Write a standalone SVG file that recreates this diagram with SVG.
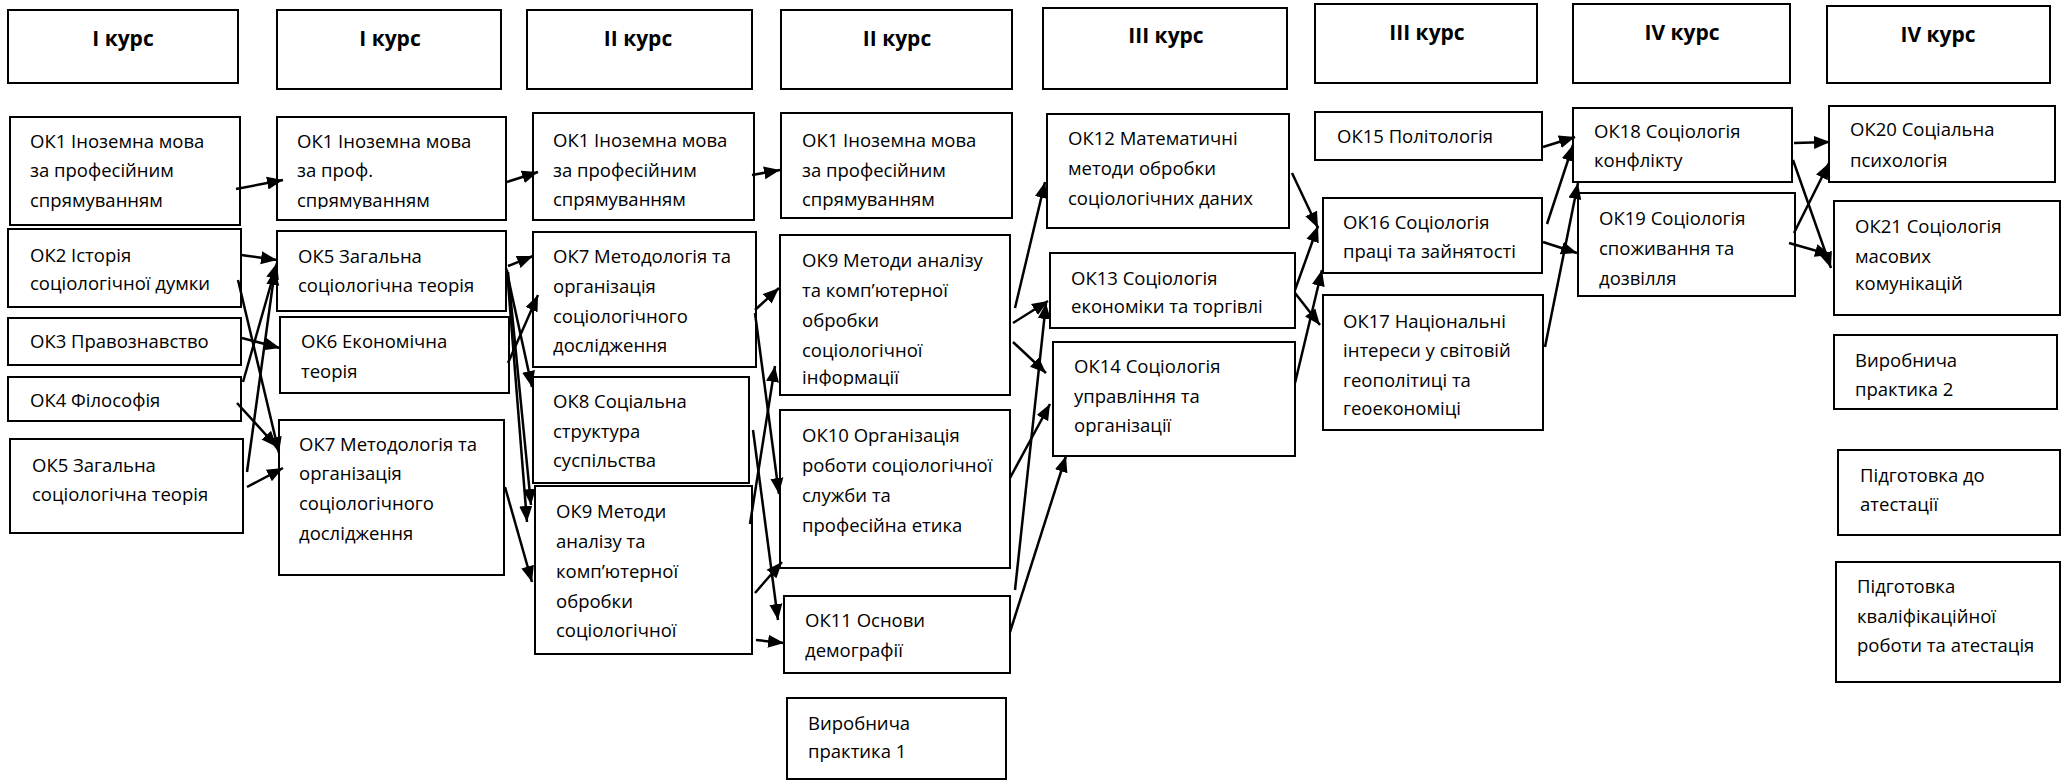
<svg xmlns="http://www.w3.org/2000/svg" width="2065" height="781" viewBox="0 0 2065 781">
<style>
.b{fill:#fff;stroke:#000;stroke-width:2}
.t{font-family:"Open Sans","Noto Sans","DejaVu Sans",sans-serif;font-size:18.5px;fill:#000}
.h{font-family:"Open Sans","Noto Sans","DejaVu Sans",sans-serif;font-size:21px;font-weight:bold;fill:#000;text-anchor:middle}
.c line{stroke:#000;stroke-width:2.5;marker-end:url(#ah)}
</style>
<defs>
<marker id="ah" markerUnits="userSpaceOnUse" markerWidth="17" markerHeight="14" refX="16" refY="7" orient="auto"><path d="M0,0.5 L16,7 L0,13.5 z" fill="#000"/></marker>
<clipPath id="clipB1"><rect x="277" y="117" width="229" height="92"/></clipPath>
<clipPath id="clipD2"><rect x="780" y="235" width="230" height="151"/></clipPath>
</defs>
<rect width="2065" height="781" fill="#fff"/>

<!-- headers -->
<g id="h1"><rect class="b" x="8" y="10" width="230" height="73"/><text class="h" x="123" y="46">І курс</text></g>
<g id="h2"><rect class="b" x="277" y="10" width="224" height="79"/><text class="h" x="390" y="46">І курс</text></g>
<g id="h3"><rect class="b" x="527" y="10" width="225" height="79"/><text class="h" x="638" y="46">ІІ курс</text></g>
<g id="h4"><rect class="b" x="781" y="10" width="231" height="79"/><text class="h" x="897" y="46">ІІ курс</text></g>
<g id="h5"><rect class="b" x="1043" y="8" width="244" height="81"/><text class="h" x="1166" y="43">ІІІ курс</text></g>
<g id="h6"><rect class="b" x="1315" y="4" width="222" height="79"/><text class="h" x="1427" y="40">ІІІ курс</text></g>
<g id="h7"><rect class="b" x="1573" y="4" width="217" height="79"/><text class="h" x="1682" y="40">ІV курс</text></g>
<g id="h8"><rect class="b" x="1827" y="6" width="223" height="77"/><text class="h" x="1938" y="42">ІV курс</text></g>

<!-- column 1 -->
<g id="a1"><rect class="b" x="10" y="117" width="230" height="108"/><text class="t" x="30" y="148">ОК1 Іноземна мова</text><text class="t" x="30" y="177">за професійним</text><text class="t" x="30" y="207">спрямуванням</text></g>
<g id="a2"><rect class="b" x="8" y="229" width="233" height="78"/><text class="t" x="30" y="262">ОК2 Історія</text><text class="t" x="30" y="290">соціологічної думки</text></g>
<g id="a3"><rect class="b" x="8" y="318" width="233" height="47"/><text class="t" x="30" y="348">ОК3 Правознавство</text></g>
<g id="a4"><rect class="b" x="8" y="377" width="233" height="44"/><text class="t" x="30" y="407">ОК4 Філософія</text></g>
<g id="a5"><rect class="b" x="10" y="439" width="233" height="94"/><text class="t" x="32" y="472">ОК5 Загальна</text><text class="t" x="32" y="501">соціологічна теорія</text></g>

<!-- column 2 -->
<g id="b1"><rect class="b" x="277" y="117" width="229" height="103"/><g clip-path="url(#clipB1)"><text class="t" x="297" y="148">ОК1 Іноземна мова</text><text class="t" x="297" y="177">за проф.</text><text class="t" x="297" y="207">спрямуванням</text></g></g>
<g id="b2"><rect class="b" x="277" y="231" width="229" height="80"/><text class="t" x="298" y="263">ОК5 Загальна</text><text class="t" x="298" y="292">соціологічна теорія</text></g>
<g id="b3"><rect class="b" x="280" y="317" width="229" height="76"/><text class="t" x="301" y="348">ОК6 Економічна</text><text class="t" x="301" y="378">теорія</text></g>
<g id="b4"><rect class="b" x="279" y="420" width="225" height="155"/><text class="t" x="299" y="451">ОК7 Методологія та</text><text class="t" x="299" y="480">організація</text><text class="t" x="299" y="510">соціологічного</text><text class="t" x="299" y="540">дослідження</text></g>

<!-- column 3 -->
<g id="c1"><rect class="b" x="533" y="113" width="221" height="107"/><text class="t" x="553" y="147">ОК1 Іноземна мова</text><text class="t" x="553" y="177">за професійним</text><text class="t" x="553" y="206">спрямуванням</text></g>
<g id="c2"><rect class="b" x="533" y="232" width="223" height="135"/><text class="t" x="553" y="263">ОК7 Методологія та</text><text class="t" x="553" y="293">організація</text><text class="t" x="553" y="323">соціологічного</text><text class="t" x="553" y="352">дослідження</text></g>
<g id="c3"><rect class="b" x="533" y="377" width="216" height="106"/><text class="t" x="553" y="408">ОК8 Соціальна</text><text class="t" x="553" y="438">структура</text><text class="t" x="553" y="467">суспільства</text></g>
<g id="c4"><rect class="b" x="535" y="486" width="217" height="168"/><text class="t" x="556" y="518">ОК9 Методи</text><text class="t" x="556" y="548">аналізу та</text><text class="t" x="556" y="578">комп’ютерної</text><text class="t" x="556" y="608">обробки</text><text class="t" x="556" y="637">соціологічної</text></g>

<!-- column 4 -->
<g id="d1"><rect class="b" x="781" y="113" width="231" height="105"/><text class="t" x="802" y="147">ОК1 Іноземна мова</text><text class="t" x="802" y="177">за професійним</text><text class="t" x="802" y="206">спрямуванням</text></g>
<g id="d2"><rect class="b" x="780" y="235" width="230" height="160"/><g clip-path="url(#clipD2)"><text class="t" x="802" y="267">ОК9 Методи аналізу</text><text class="t" x="802" y="297">та комп’ютерної</text><text class="t" x="802" y="327">обробки</text><text class="t" x="802" y="357">соціологічної</text><text class="t" x="802" y="384">інформації</text></g></g>
<g id="d3"><rect class="b" x="780" y="410" width="230" height="158"/><text class="t" x="802" y="442">ОК10 Організація</text><text class="t" x="802" y="472">роботи соціологічної</text><text class="t" x="802" y="502">служби та</text><text class="t" x="802" y="532">професійна етика</text></g>
<g id="d4"><rect class="b" x="784" y="596" width="226" height="77"/><text class="t" x="805" y="627">ОК11 Основи</text><text class="t" x="805" y="657">демографії</text></g>
<g id="d5"><rect class="b" x="787" y="698" width="219" height="81"/><text class="t" x="808" y="730">Виробнича</text><text class="t" x="808" y="758">практика 1</text></g>

<!-- column 5 -->
<g id="e1"><rect class="b" x="1047" y="114" width="242" height="114"/><text class="t" x="1068" y="145">ОК12 Математичні</text><text class="t" x="1068" y="175">методи обробки</text><text class="t" x="1068" y="205">соціологічних даних</text></g>
<g id="e2"><rect class="b" x="1050" y="253" width="245" height="75"/><text class="t" x="1071" y="285">ОК13 Соціологія</text><text class="t" x="1071" y="313">економіки та торгівлі</text></g>
<g id="e3"><rect class="b" x="1053" y="342" width="242" height="114"/><text class="t" x="1074" y="373">ОК14 Соціологія</text><text class="t" x="1074" y="403">управління та</text><text class="t" x="1074" y="432">організації</text></g>

<!-- column 6 -->
<g id="f1"><rect class="b" x="1315" y="112" width="227" height="48"/><text class="t" x="1337" y="143">ОК15 Політологія</text></g>
<g id="f2"><rect class="b" x="1323" y="198" width="219" height="75"/><text class="t" x="1343" y="229">ОК16 Соціологія</text><text class="t" x="1343" y="258">праці та зайнятості</text></g>
<g id="f3"><rect class="b" x="1323" y="295" width="220" height="135"/><text class="t" x="1343" y="328">ОК17 Національні</text><text class="t" x="1343" y="357">інтереси у світовій</text><text class="t" x="1343" y="387">геополітиці та</text><text class="t" x="1343" y="415">геоекономіці</text></g>

<!-- column 7 -->
<g id="g1"><rect class="b" x="1573" y="108" width="219" height="74"/><text class="t" x="1594" y="138">ОК18 Соціологія</text><text class="t" x="1594" y="167">конфлікту</text></g>
<g id="g2"><rect class="b" x="1578" y="193" width="217" height="103"/><text class="t" x="1599" y="225">ОК19 Соціологія</text><text class="t" x="1599" y="255">споживання та</text><text class="t" x="1599" y="285">дозвілля</text></g>

<!-- column 8 -->
<g id="i1"><rect class="b" x="1829" y="106" width="226" height="76"/><text class="t" x="1850" y="136">ОК20 Соціальна</text><text class="t" x="1850" y="167">психологія</text></g>
<g id="i2"><rect class="b" x="1834" y="201" width="226" height="114"/><text class="t" x="1855" y="233">ОК21 Соціологія</text><text class="t" x="1855" y="263">масових</text><text class="t" x="1855" y="290">комунікацій</text></g>
<g id="i3"><rect class="b" x="1834" y="335" width="223" height="74"/><text class="t" x="1855" y="367">Виробнича</text><text class="t" x="1855" y="396">практика 2</text></g>
<g id="i4"><rect class="b" x="1838" y="450" width="222" height="85"/><text class="t" x="1860" y="482">Підготовка до</text><text class="t" x="1860" y="511">атестації</text></g>
<g id="i5"><rect class="b" x="1836" y="562" width="224" height="120"/><text class="t" x="1857" y="593">Підготовка</text><text class="t" x="1857" y="623">кваліфікаційної</text><text class="t" x="1857" y="652">роботи та атестація</text></g>

<!-- connectors -->
<g id="connectors" class="c">
<line x1="236" y1="189" x2="283" y2="180"/>
<line x1="241" y1="255" x2="277" y2="260"/>
<line x1="243" y1="382" x2="277" y2="263"/>
<line x1="247" y1="472" x2="275" y2="269"/>
<line x1="238" y1="280" x2="279" y2="453"/>
<line x1="237" y1="403" x2="277" y2="447"/>
<line x1="242" y1="338" x2="280" y2="348"/>
<line x1="247" y1="487" x2="283" y2="468"/>

<line x1="507" y1="182" x2="538" y2="172"/>
<line x1="508" y1="266" x2="533" y2="256"/>
<line x1="506" y1="268" x2="532" y2="387"/>
<line x1="507" y1="270" x2="527" y2="522"/>
<line x1="508" y1="272" x2="531" y2="505"/>
<line x1="508" y1="363" x2="538" y2="295"/>
<line x1="505" y1="487" x2="532" y2="582"/>

<line x1="752" y1="175" x2="780" y2="170"/>
<line x1="755" y1="310" x2="779" y2="288"/>
<line x1="755" y1="313" x2="779" y2="494"/>
<line x1="750" y1="524" x2="775" y2="366"/>
<line x1="753" y1="430" x2="778" y2="620"/>
<line x1="755" y1="593" x2="782" y2="562"/>
<line x1="756" y1="640" x2="784" y2="643"/>

<line x1="1015" y1="308" x2="1045" y2="182"/>
<line x1="1013" y1="323" x2="1048" y2="301"/>
<line x1="1013" y1="342" x2="1046" y2="373"/>
<line x1="1010" y1="478" x2="1050" y2="404"/>
<line x1="1015" y1="590" x2="1046" y2="303"/>
<line x1="1010" y1="632" x2="1066" y2="456"/>

<line x1="1292" y1="173" x2="1318" y2="228"/>
<line x1="1295" y1="290" x2="1318" y2="226"/>
<line x1="1295" y1="293" x2="1320" y2="325"/>
<line x1="1295" y1="383" x2="1322" y2="270"/>

<line x1="1543" y1="147" x2="1575" y2="137"/>
<line x1="1547" y1="224" x2="1573" y2="145"/>
<line x1="1543" y1="242" x2="1577" y2="253"/>
<line x1="1545" y1="347" x2="1578" y2="183"/>

<line x1="1794" y1="143" x2="1830" y2="142"/>
<line x1="1793" y1="160" x2="1831" y2="268"/>
<line x1="1794" y1="233" x2="1829" y2="163"/>
<line x1="1789" y1="243" x2="1831" y2="255"/>
</g>
</svg>
